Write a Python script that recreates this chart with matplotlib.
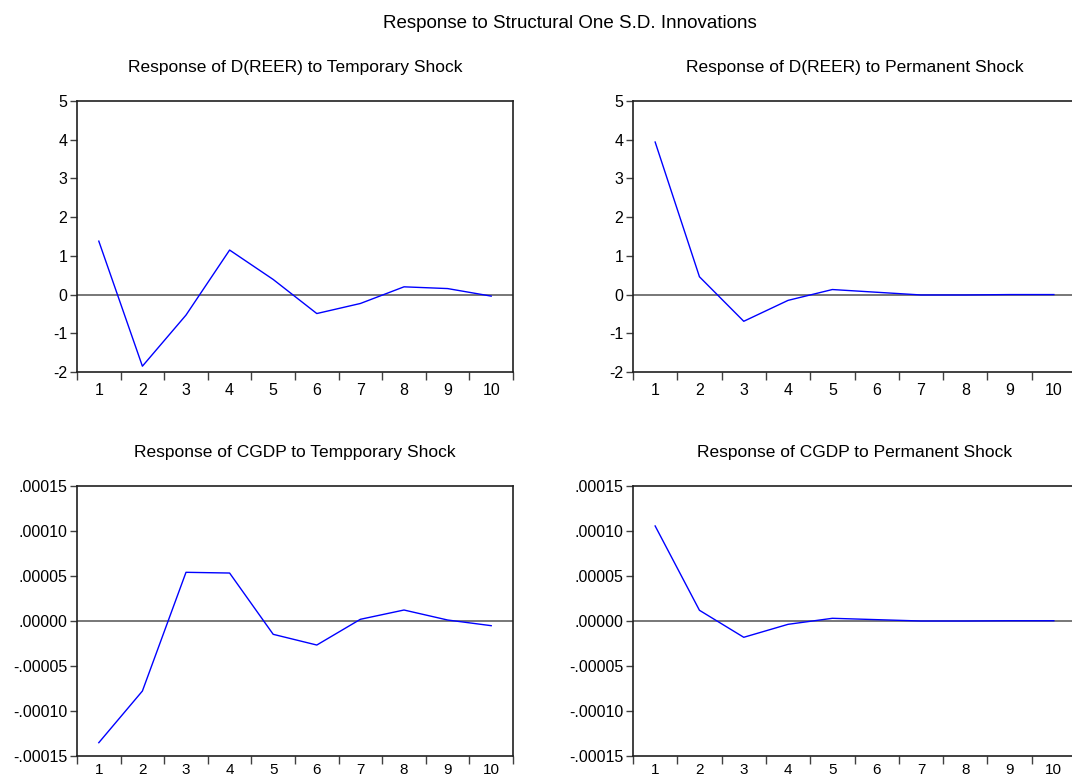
import numpy as np
import matplotlib.pyplot as plt
from matplotlib.ticker import FixedLocator, NullFormatter, FuncFormatter

plt.rcParams['font.family'] = ['Liberation Sans', 'DejaVu Sans']
plt.rcParams['axes.unicode_minus'] = False

periods = np.arange(1, 11)

reer_temp = [1.38, -1.85, -0.53, 1.15, 0.39, -0.49, -0.23, 0.20, 0.155, -0.04]
reer_perm = [3.94, 0.46, -0.69, -0.15, 0.13, 0.06, -0.01, -0.01, 0.0, 0.0]
cgdp_temp = [-1.352e-4, -7.78e-5, 5.41e-5, 5.33e-5, -1.48e-5, -2.67e-5,
             1.9e-6, 1.22e-5, 1.1e-6, -5.2e-6]
cgdp_perm = [1.056e-4, 1.19e-5, -1.81e-5, -3.7e-6, 3.0e-6, 1.5e-6,
             0.0, 0.0, 0.3e-6, 0.3e-6]

titles = ['Response of D(REER) to Temporary Shock',
          'Response of D(REER) to Permanent Shock',
          'Response of CGDP to Tempporary Shock',
          'Response of CGDP to Permanent Shock']

reer_ticks = [-2, -1, 0, 1, 2, 3, 4, 5]
cgdp_ticks = [-0.00015, -0.00010, -0.00005, 0.0, 0.00005, 0.00010, 0.00015]


def cgdp_fmt(v, pos):
    s = '%.5f' % v
    s = s.replace('0.', '.', 1)
    if s == '-.00000':
        s = '.00000'
    return s


fig = plt.figure(figsize=(10.72, 7.79), dpi=100)
W, H = 1072, 779
boxes = [(77, 101, 436, 271), (633, 101, 443, 271),
         (77, 486, 436, 270), (633, 486, 443, 270)]
series = [reer_temp, reer_perm, cgdp_temp, cgdp_perm]

for i, (x0, y0, w, h) in enumerate(boxes):
    ax = fig.add_axes([x0 / W, 1 - (y0 + h) / H, w / W, h / H])
    ax.plot(periods, series[i], color='#0000ff', lw=1.0)
    ax.axhline(0, color='#606060', lw=1.2, zorder=1)
    ax.set_xlim(0.5, 10.5)
    ax.xaxis.set_major_locator(FixedLocator(np.arange(0.5, 11, 1)))
    ax.xaxis.set_major_formatter(NullFormatter())
    ax.xaxis.set_minor_locator(FixedLocator(periods))
    ax.set_xticklabels([str(p) for p in periods], minor=True)
    ax.tick_params(axis='x', which='major', direction='out', length=6,
                   width=1, color='#404040')
    if i < 2:
        ax.tick_params(axis='x', which='minor', length=0, pad=8,
                       labelsize=11.5)
    else:
        ax.tick_params(axis='x', which='minor', length=0, pad=5,
                       labelsize=11)
    ax.tick_params(axis='y', direction='out', length=5, width=1,
                   color='#404040', labelsize=11.5, pad=2)
    if i < 2:
        ax.set_ylim(-2, 5)
        ax.set_yticks(reer_ticks)
    else:
        ax.set_ylim(-0.00015, 0.00015)
        ax.set_yticks(cgdp_ticks)
        ax.yaxis.set_major_formatter(FuncFormatter(cgdp_fmt))
    for sp in ax.spines.values():
        sp.set_linewidth(1.2)
        sp.set_color('#202020')
    ax.set_title(titles[i], fontsize=12.5, pad=21)

fig.text(570 / W, 1 - 24 / H, 'Response to Structural One S.D. Innovations',
         ha='center', va='center', fontsize=13.5)

fig.savefig('out.png', dpi=100)
